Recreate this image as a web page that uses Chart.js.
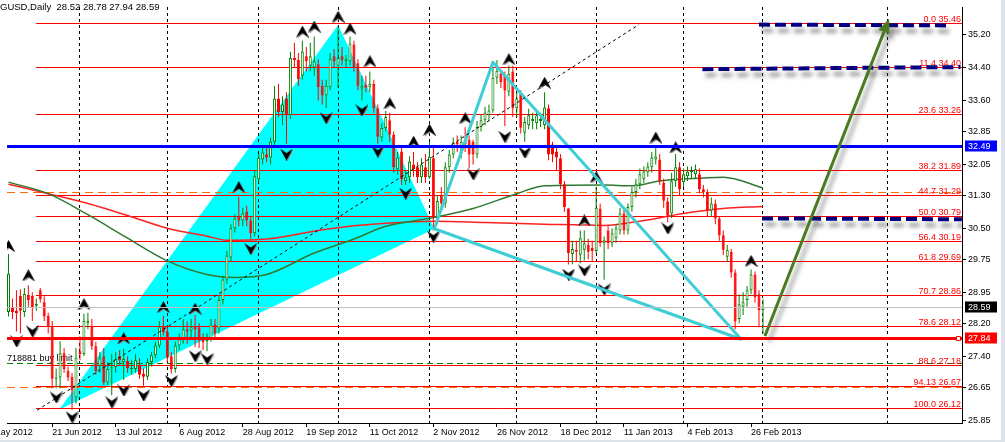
<!DOCTYPE html>
<html>
<head>
<meta charset="utf-8">
<script src="https://cdn.jsdelivr.net/npm/chart.js@4.4.1/dist/chart.umd.min.js"></script>
<style>
html,body{margin:0;padding:0;background:#ffffff;overflow:hidden;}
#wrap{position:relative;width:1005px;height:442px;}
canvas{display:block;}
</style>
</head>
<body>
<div id="wrap"><canvas id="chart" width="1005" height="442"></canvas></div>
<script>
// ---------------- DATA (bar index 0 = 6 Jun 2012 ... 190 = 1 Mar 2013) ----------------
const opens = [28.47,28.59,28.50,28.86,28.47,28.88,28.86,28.62,29.00,28.71,28.38,28.12,26.85,26.88,27.47,27.04,26.90,26.40,27.52,27.45,
28.20,28.12,27.64,27.16,27.40,26.76,27.12,27.14,27.40,27.26,27.28,27.09,27.09,27.16,26.97,26.90,27.26,27.42,27.66,28.14,
28.00,27.40,27.09,27.66,27.81,28.05,28.02,28.14,28.10,27.81,27.76,27.81,28.17,28.07,28.76,29.26,29.79,30.50,30.79,30.69,
30.91,30.69,30.38,31.69,32.17,32.29,32.22,32.60,33.65,33.32,33.65,33.24,34.63,34.58,34.20,34.67,34.44,34.40,34.48,33.96,
33.72,33.92,34.67,34.44,34.67,34.55,34.55,34.96,34.50,33.89,33.98,33.92,34.00,33.41,32.70,32.93,33.12,32.77,31.93,32.36,
31.65,31.74,32.05,31.98,31.74,31.98,31.74,32.20,30.74,31.30,31.10,31.98,32.29,32.60,32.30,32.60,32.65,32.60,32.29,32.96,
33.12,33.24,33.36,34.15,34.25,34.20,33.81,34.30,33.41,33.79,32.82,33.00,33.10,33.05,33.10,33.00,33.41,32.53,32.36,32.20,
31.57,30.98,29.88,29.98,29.86,29.98,30.10,30.02,29.95,30.98,30.14,30.45,30.14,30.26,30.45,30.86,30.45,31.02,31.38,31.57,
31.69,31.86,31.98,32.17,32.17,31.60,31.15,30.86,31.64,31.98,31.62,31.76,31.86,31.81,31.81,31.45,31.38,30.93,31.10,30.74,
30.33,29.81,29.93,29.43,28.30,28.60,28.76,29.00,29.38,28.90,28.52];
const highs = [29.88,28.80,29.00,29.02,29.05,29.12,28.95,28.80,29.05,28.85,28.45,28.25,27.10,27.76,27.60,27.15,27.00,27.60,27.88,28.43,
28.45,28.30,27.75,27.50,27.60,27.25,27.45,27.50,27.55,27.58,27.40,27.30,27.45,27.35,27.10,27.35,27.50,27.75,28.25,28.38,
28.10,27.50,27.75,27.95,28.30,28.24,28.30,28.40,28.20,27.95,27.95,28.30,28.30,28.85,29.35,29.95,30.60,30.85,31.26,31.00,
31.05,30.80,31.90,32.30,32.50,32.45,32.70,33.95,34.00,33.70,33.80,34.78,35.00,34.75,35.05,34.90,35.00,35.15,34.60,34.10,
34.10,34.75,34.85,35.34,34.90,34.70,35.15,35.05,34.60,34.20,34.20,34.30,34.10,33.50,33.05,33.35,33.30,32.85,32.35,32.45,
31.90,32.25,32.35,32.10,32.20,32.30,32.60,32.45,31.30,31.50,32.10,32.40,32.70,32.75,32.75,32.95,32.75,32.65,33.10,33.25,
33.45,33.50,34.40,34.58,34.35,34.30,34.45,34.44,33.80,33.85,33.20,33.40,33.30,33.35,33.30,33.80,33.50,32.60,32.50,32.30,
31.65,31.00,30.20,30.20,30.45,30.45,30.25,30.20,31.50,31.10,30.30,30.55,30.50,30.60,31.00,31.00,31.10,31.50,31.70,31.95,
32.00,32.10,32.35,32.50,32.30,31.70,31.25,31.85,32.30,32.10,31.95,32.00,32.00,32.05,31.95,31.55,31.45,31.25,31.20,30.80,
30.45,30.10,30.00,29.50,28.90,28.95,29.10,29.50,29.45,29.00,28.78];
const lows = [28.36,28.30,28.00,27.95,28.35,28.60,28.25,28.50,28.70,28.25,27.95,26.62,26.62,26.62,27.00,26.80,26.10,26.25,27.30,27.40,
28.05,27.55,26.95,27.00,26.70,26.70,26.45,27.00,27.20,26.82,27.00,26.95,27.00,26.85,26.68,26.82,27.15,27.35,27.60,27.90,
27.25,26.98,27.00,27.55,27.70,27.70,27.85,27.62,27.60,27.55,27.52,27.75,27.85,27.95,28.65,29.15,29.70,30.40,30.55,30.55,
30.55,30.25,30.30,31.60,32.05,32.10,32.05,32.50,33.20,33.00,32.55,33.15,34.40,33.95,34.10,34.30,34.30,34.20,33.60,33.50,
33.42,33.85,34.40,33.90,34.45,34.40,34.45,34.30,33.85,33.60,33.80,33.80,33.30,32.55,32.60,32.85,32.60,31.85,31.80,31.55,
31.55,31.60,31.75,31.60,31.60,31.60,31.70,30.45,30.60,30.95,31.00,31.85,32.20,32.35,32.20,32.35,31.95,32.05,32.20,32.85,
33.00,33.10,33.30,34.00,33.90,32.98,33.70,33.20,33.20,32.80,32.60,32.90,32.90,32.90,32.95,32.90,32.15,32.10,31.90,31.45,
30.90,29.62,29.63,29.70,29.65,29.72,29.75,29.70,29.90,30.05,29.25,30.00,30.05,30.15,30.35,30.35,30.35,30.90,31.25,31.45,
31.60,31.75,31.85,32.05,31.55,31.00,30.65,30.75,31.50,31.30,31.50,31.65,31.70,31.70,31.35,31.25,30.80,30.80,30.60,30.20,
29.85,29.70,29.30,28.05,28.20,28.40,28.60,28.90,28.70,28.10,27.94];
const closes = [29.40,28.47,28.44,28.50,28.91,28.76,28.59,28.67,28.78,28.36,28.12,26.85,26.88,27.47,27.09,26.88,26.57,27.36,27.45,28.26,
28.26,27.64,27.04,27.35,26.76,27.09,27.14,27.33,27.30,27.33,27.11,27.12,27.30,26.95,26.90,27.26,27.42,27.66,28.10,27.98,
27.36,27.09,27.66,27.81,28.05,28.00,28.10,28.05,27.78,27.74,27.81,28.17,27.95,28.76,29.26,29.84,30.50,30.74,30.69,30.86,
30.69,30.38,31.76,32.21,32.34,32.22,32.60,33.65,33.32,33.50,33.24,34.63,34.58,34.12,34.79,34.55,34.67,34.55,33.92,33.72,
33.96,34.60,34.55,34.63,34.58,34.60,34.98,34.39,33.96,33.96,33.91,34.00,33.41,32.72,32.93,33.20,32.77,31.98,32.22,31.69,
31.74,32.12,31.93,31.74,32.05,31.74,32.24,30.79,31.16,31.10,31.98,32.29,32.58,32.53,32.60,32.53,32.29,32.29,32.96,33.12,
33.31,33.36,34.15,34.32,34.05,33.84,34.25,33.41,33.65,32.94,33.08,33.24,33.15,33.24,33.15,33.43,32.29,32.29,32.22,31.57,
31.02,29.90,30.00,29.93,30.26,30.14,29.93,29.95,31.00,30.14,30.21,30.14,30.38,30.50,30.86,30.45,31.02,31.38,31.57,31.81,
31.88,32.00,32.22,32.24,31.65,31.17,30.81,31.64,31.98,31.45,31.81,31.88,31.91,31.93,31.45,31.38,30.93,31.10,30.74,30.33,
29.98,29.98,29.43,28.24,28.66,28.71,29.00,29.38,28.83,28.52,28.59];

// moving averages (sampled at bar indices)
const maSlowBars = [0,10,20,30,40,50,57,65,77,87,95,107,117,128,135,150,157,164,175,180,190];
const maSlowVals = [31.62,31.34,30.83,30.26,29.71,29.38,29.31,29.38,29.90,30.24,30.55,30.76,30.98,31.34,31.53,31.55,31.53,31.65,31.72,31.74,31.48];
const maFastBars = [0,10,20,30,40,50,55,65,80,95,107,120,135,150,160,170,180,190];
const maFastVals = [31.57,31.34,31.10,30.81,30.50,30.31,30.21,30.24,30.48,30.62,30.67,30.64,30.60,30.57,30.69,30.86,30.98,31.03];

// fractals
const fracUpBars = [0,5,19,29,39,47,58,74,77,83,86,91,96,102,106,115,126,135,145,148,163,168,187];
const fracUpPrices = [30.07,29.36,28.66,27.83,28.59,28.55,31.50,35.27,35.39,35.63,35.34,34.55,33.53,32.60,32.89,33.17,34.60,34.03,30.69,31.74,32.70,32.46,29.71];
const fracDnBars = [2,6,12,16,26,29,34,41,47,50,61,70,80,89,93,100,107,117,125,130,141,145,150,166];
const fracDnPrices = [27.76,28.00,26.40,25.92,26.28,26.57,26.45,26.80,27.40,27.33,30.00,32.29,33.17,33.36,32.36,31.34,30.30,31.81,32.72,32.34,29.38,29.48,29.02,30.50];

// axes
const xTickBars = [11,27,43,59,75,91,107,123,139,155,171,187];
const xTickLabels = ['21 Jun 2012','13 Jul 2012','6 Aug 2012','28 Aug 2012','19 Sep 2012','11 Oct 2012','2 Nov 2012','26 Nov 2012','18 Dec 2012','11 Jan 2013','4 Feb 2013','26 Feb 2013'];
const firstLabelBar = -7, firstLabelText = '30 May 2012';
const monthGridBars = [18,40,63,83,106,128,148,170,190,221.25];
const yTickValues = [35.20,34.40,33.60,32.85,32.05,31.30,30.50,29.75,28.95,28.20,27.40,26.65,25.85];

// fibonacci
const fibPct = ['0.0','11.4','23.6','38.2','44.7','50.0','56.4','61.8','70.7','78.6','88.6','94.13','100.0'];
const fibPrices = [35.46,34.40,33.26,31.89,31.29,30.79,30.19,29.69,28.86,28.12,27.18,26.67,26.12];
const fibStartBar = 6.9;

// horizontal objects
const bluePrice = 32.49, bidPrice = 28.59, orderPrice = 27.84, buyLimitPrice = 27.21;
const orangeLevels = [31.38, 26.63];

// harmonic pattern & drawings
const xabBars = [12.75, 83, 107.25];
const xabPrices = [26.10, 35.43, 30.49];
const bcdBars = [107.25, 122, 184.5];
const bcdPrices = [30.49, 34.53, 27.81];
const trendBars = [7.25, 158.75];
const trendPrices = [26.09, 35.44];
const navyStartBars = [189, 174.75, 189.75];
const navyStartPrices = [35.44, 34.36, 30.74];
const navyEndBars = [237.25, 239.75, 240.1];
const navyEndPrices = [35.42, 34.41, 30.72];
const arrowBars = [190.5, 221.75];
const arrowPrices = [27.89, 35.58];

const titleText = 'GUSD,Daily  28.52 28.78 27.94 28.59';

// ---------------- RENDER ----------------
const GREEN = '#008000', RED = '#ff0000';
const FONT = '"Liberation Sans", Arial, sans-serif';
Chart.defaults.font.family = FONT;

const idx = opens.map((_, i) => i);
const bull = idx.map(i => closes[i] >= opens[i]);

function arrowImg(up) {
  const c = document.createElement('canvas'); c.width = 13; c.height = 12;
  const g = c.getContext('2d');
  const pts = up ? [[6.5,0],[13,12],[6.5,7.5],[0,12]] : [[6.5,12],[13,0],[6.5,4.5],[0,0]];
  g.fillStyle = '#9a9a9a';
  g.beginPath(); pts.forEach((p, i) => i ? g.lineTo(p[0] + 1, p[1] + 1) : g.moveTo(p[0] + 1, p[1] + 1)); g.closePath(); g.fill();
  g.fillStyle = '#000';
  g.beginPath(); pts.forEach((p, i) => i ? g.lineTo(p[0], p[1]) : g.moveTo(p[0], p[1])); g.closePath(); g.fill();
  return c;
}

const overlay = {
  id: 'mt4overlay',
  beforeDatasetsDraw(chart) {
    const {ctx, chartArea: a} = chart;
    const xs = chart.scales.x, ys = chart.scales.y;
    const X = v => xs.getPixelForValue(v), Y = v => ys.getPixelForValue(v);
    const hy = v => Math.round(Y(v) - 0.5) + 0.5;
    ctx.save();
    ctx.beginPath(); ctx.rect(a.left, a.top, a.width, a.height); ctx.clip();
    // filled XAB triangle
    ctx.fillStyle = '#00ffff';
    ctx.beginPath();
    xabBars.forEach((b, i) => i ? ctx.lineTo(X(b), Y(xabPrices[i])) : ctx.moveTo(X(b), Y(xabPrices[i])));
    ctx.closePath(); ctx.fill();
    // vertical grid
    ctx.strokeStyle = '#000'; ctx.lineWidth = 1; ctx.setLineDash([3,3]);
    monthGridBars.forEach(b => {
      const x = Math.round(X(b) - 0.5) + 0.5;
      ctx.beginPath(); ctx.moveTo(x, a.top); ctx.lineTo(x, a.bottom); ctx.stroke();
    });
    // buy limit line
    ctx.strokeStyle = '#008000'; ctx.setLineDash([6,4]);
    ctx.beginPath(); ctx.moveTo(a.left, hy(buyLimitPrice)); ctx.lineTo(a.right, hy(buyLimitPrice)); ctx.stroke();
    // orange dashed order lines
    ctx.strokeStyle = '#ff6a00'; ctx.setLineDash([8,5]);
    orangeLevels.forEach(p => { ctx.beginPath(); ctx.moveTo(a.left, hy(p)); ctx.lineTo(a.right, hy(p)); ctx.stroke(); });
    ctx.setLineDash([]);
    // fibonacci levels
    ctx.strokeStyle = RED; ctx.lineWidth = 1;
    const fx = X(fibStartBar);
    fibPrices.forEach(p => { ctx.beginPath(); ctx.moveTo(fx, hy(p)); ctx.lineTo(a.right, hy(p)); ctx.stroke(); });
    ctx.fillStyle = RED; ctx.font = '9px ' + FONT; ctx.textAlign = 'right'; ctx.textBaseline = 'alphabetic';
    fibPrices.forEach((p, i) => ctx.fillText(fibPct[i] + ' ' + p.toFixed(2), a.right - 1, hy(p) - 2));
    // buy limit text
    ctx.fillStyle = '#000'; ctx.textAlign = 'left';
    ctx.fillText('59718881 buy limit', -3, hy(buyLimitPrice) - 3);
    ctx.restore();
  },
  afterDatasetsDraw(chart) {
    const {ctx, chartArea: a} = chart;
    const xs = chart.scales.x, ys = chart.scales.y;
    const X = v => xs.getPixelForValue(v), Y = v => ys.getPixelForValue(v);
    const hy = v => Math.round(Y(v) - 0.5) + 0.5;
    ctx.save();
    ctx.beginPath(); ctx.rect(a.left, a.top, a.width, a.height); ctx.clip();
    // BCD outline
    ctx.strokeStyle = '#3fcdd6'; ctx.lineWidth = 3; ctx.lineJoin = 'round';
    ctx.beginPath();
    bcdBars.forEach((b, i) => i ? ctx.lineTo(X(b), Y(bcdPrices[i])) : ctx.moveTo(X(b), Y(bcdPrices[i])));
    ctx.closePath(); ctx.stroke();
    // dotted trend line
    ctx.strokeStyle = '#000'; ctx.lineWidth = 1; ctx.setLineDash([3,3]);
    ctx.beginPath(); ctx.moveTo(X(trendBars[0]), Y(trendPrices[0])); ctx.lineTo(X(trendBars[1]), Y(trendPrices[1])); ctx.stroke();
    ctx.setLineDash([]);
    // bid line
    ctx.strokeStyle = '#c0c0c0'; ctx.lineWidth = 1;
    ctx.beginPath(); ctx.moveTo(a.left, hy(bidPrice)); ctx.lineTo(a.right, hy(bidPrice)); ctx.stroke();
    // blue line
    ctx.strokeStyle = '#0000ff'; ctx.lineWidth = 3;
    ctx.beginPath(); ctx.moveTo(a.left, hy(bluePrice)); ctx.lineTo(a.right, hy(bluePrice)); ctx.stroke();
    // red order line
    ctx.strokeStyle = RED; ctx.lineWidth = 3;
    ctx.beginPath(); ctx.moveTo(a.left, hy(orderPrice)); ctx.lineTo(a.right, hy(orderPrice)); ctx.stroke();
    ctx.fillStyle = '#fff'; ctx.lineWidth = 1;
    ctx.fillRect(a.right - 6, hy(orderPrice) - 2.5, 5, 5);
    ctx.strokeRect(a.right - 6 + 0.5, hy(orderPrice) - 2, 4, 4);
    // navy dashed lines with shadow
    ctx.save();
    ctx.strokeStyle = '#000080'; ctx.lineWidth = 4; ctx.setLineDash([11,5]);
    ctx.shadowColor = 'rgba(70,70,70,0.55)'; ctx.shadowBlur = 4; ctx.shadowOffsetX = 3; ctx.shadowOffsetY = 6;
    navyStartBars.forEach((b, i) => {
      ctx.beginPath(); ctx.moveTo(X(b), Y(navyStartPrices[i])); ctx.lineTo(X(navyEndBars[i]), Y(navyEndPrices[i])); ctx.stroke();
    });
    ctx.restore();
    // green arrow with shadow
    ctx.save();
    ctx.shadowColor = 'rgba(70,70,70,0.5)'; ctx.shadowBlur = 4; ctx.shadowOffsetX = 4; ctx.shadowOffsetY = 6;
    const x0 = X(arrowBars[0]), y0 = Y(arrowPrices[0]), x1 = X(arrowBars[1]), y1 = Y(arrowPrices[1]);
    const ang = Math.atan2(y1 - y0, x1 - x0), hl = 14, hw = 6;
    const bx = x1 - hl * Math.cos(ang), by = y1 - hl * Math.sin(ang);
    ctx.strokeStyle = '#4a7a22'; ctx.fillStyle = '#4a7a22'; ctx.lineWidth = 3;
    ctx.beginPath(); ctx.moveTo(x0, y0); ctx.lineTo(bx, by); ctx.stroke();
    ctx.beginPath(); ctx.moveTo(x1, y1);
    ctx.lineTo(bx + hw * Math.sin(ang), by - hw * Math.cos(ang));
    ctx.lineTo(bx - hw * Math.sin(ang), by + hw * Math.cos(ang));
    ctx.closePath(); ctx.fill();
    ctx.restore();
    ctx.restore();
  },
  afterDraw(chart) {
    const {ctx, chartArea: a} = chart;
    const xs = chart.scales.x, ys = chart.scales.y;
    const hy = v => Math.round(ys.getPixelForValue(v) - 0.5) + 0.5;
    ctx.save();
    // title
    ctx.fillStyle = '#000'; ctx.font = '9.5px ' + FONT; ctx.textAlign = 'left'; ctx.textBaseline = 'alphabetic';
    ctx.fillText(titleText, 0, 10);
    // first (partially hidden) date label
    ctx.font = '9px ' + FONT; ctx.textBaseline = 'middle'; ctx.textAlign = 'left';
    ctx.fillText(firstLabelText, xs.getPixelForValue(firstLabelBar), a.bottom + 10);
    // price boxes on axis
    const boxes = [[bluePrice, '#0000ff'], [bidPrice, '#000000'], [orderPrice, RED]];
    boxes.forEach(([p, c]) => {
      const y = hy(p);
      ctx.fillStyle = c; ctx.fillRect(a.right + 3, y - 6, 32, 11);
      ctx.fillStyle = '#fff'; ctx.fillText(p.toFixed(2), a.right + 6, y);
    });
    // frame
    ctx.fillStyle = '#dde3e8';
    ctx.fillRect(0, 440, 1005, 2);
    ctx.fillRect(1001, 0, 4, 442);
    ctx.restore();
  }
};

new Chart(document.getElementById('chart'), {
  type: 'bar',
  data: {
    datasets: [
      { type: 'line', label: 'MA slow', data: maSlowBars.map((b, i) => ({x: b, y: maSlowVals[i]})),
        borderColor: '#2f7a2f', borderWidth: 1.5, pointRadius: 0, cubicInterpolationMode: 'monotone', order: 4 },
      { type: 'line', label: 'MA fast', data: maFastBars.map((b, i) => ({x: b, y: maFastVals[i]})),
        borderColor: '#ff2020', borderWidth: 1.5, pointRadius: 0, cubicInterpolationMode: 'monotone', order: 4 },
      { type: 'bar', label: 'wicks', data: idx.map(i => ({x: i, y: [lows[i], highs[i]]})),
        backgroundColor: idx.map(i => bull[i] ? GREEN : RED), barThickness: 1, grouped: false,
        inflateAmount: 0, borderWidth: 0, order: 3 },
      { type: 'bar', label: 'bodies', data: idx.map(i => ({x: i, y: [opens[i], closes[i]]})),
        backgroundColor: idx.map(i => bull[i] ? '#ffffff' : RED),
        borderColor: idx.map(i => bull[i] ? GREEN : RED),
        borderWidth: 1, borderSkipped: false, barThickness: 3, grouped: false, minBarLength: 1,
        inflateAmount: 0, order: 2 },
      { type: 'scatter', label: 'fractal up', data: fracUpBars.map((b, i) => ({x: b, y: fracUpPrices[i]})),
        pointStyle: arrowImg(true), pointRadius: 6, order: 1 },
      { type: 'scatter', label: 'fractal down', data: fracDnBars.map((b, i) => ({x: b, y: fracDnPrices[i]})),
        pointStyle: arrowImg(false), pointRadius: 6, order: 1 }
    ]
  },
  options: {
    responsive: false, animation: false, devicePixelRatio: 1, events: [],
    layout: { padding: 0 },
    plugins: { legend: { display: false }, tooltip: { enabled: false } },
    scales: {
      x: {
        type: 'linear', position: 'bottom', min: -0.375, max: 240.125, offset: false,
        afterBuildTicks: s => { s.ticks = xTickBars.map(v => ({value: v})); },
        afterFit: s => { s.height = 19; s.paddingLeft = 0; s.paddingRight = 0; },
        ticks: { autoSkip: false, maxRotation: 0, minRotation: 0, align: 'start', padding: 0,
          color: '#000', font: { family: FONT, size: 9 },
          callback: v => xTickLabels[xTickBars.indexOf(v)] },
        grid: { drawOnChartArea: false, drawTicks: true, tickLength: 4, color: '#000', offset: false },
        border: { display: true, color: '#000', width: 1 }
      },
      y: {
        type: 'linear', position: 'right', min: 25.779, max: 35.867, beginAtZero: false,
        afterBuildTicks: s => { s.ticks = yTickValues.map(v => ({value: v})); },
        afterFit: s => { s.width = 43; s.paddingTop = 0; s.paddingBottom = 0; },
        ticks: { color: '#000', font: { family: FONT, size: 9 }, padding: 2, crossAlign: 'near',
          callback: v => Number(v).toFixed(2) },
        grid: { drawOnChartArea: false, drawTicks: true, tickLength: 4, color: '#000' },
        border: { display: true, color: '#000', width: 1 }
      }
    }
  },
  plugins: [overlay]
});
</script>
</body>
</html>
